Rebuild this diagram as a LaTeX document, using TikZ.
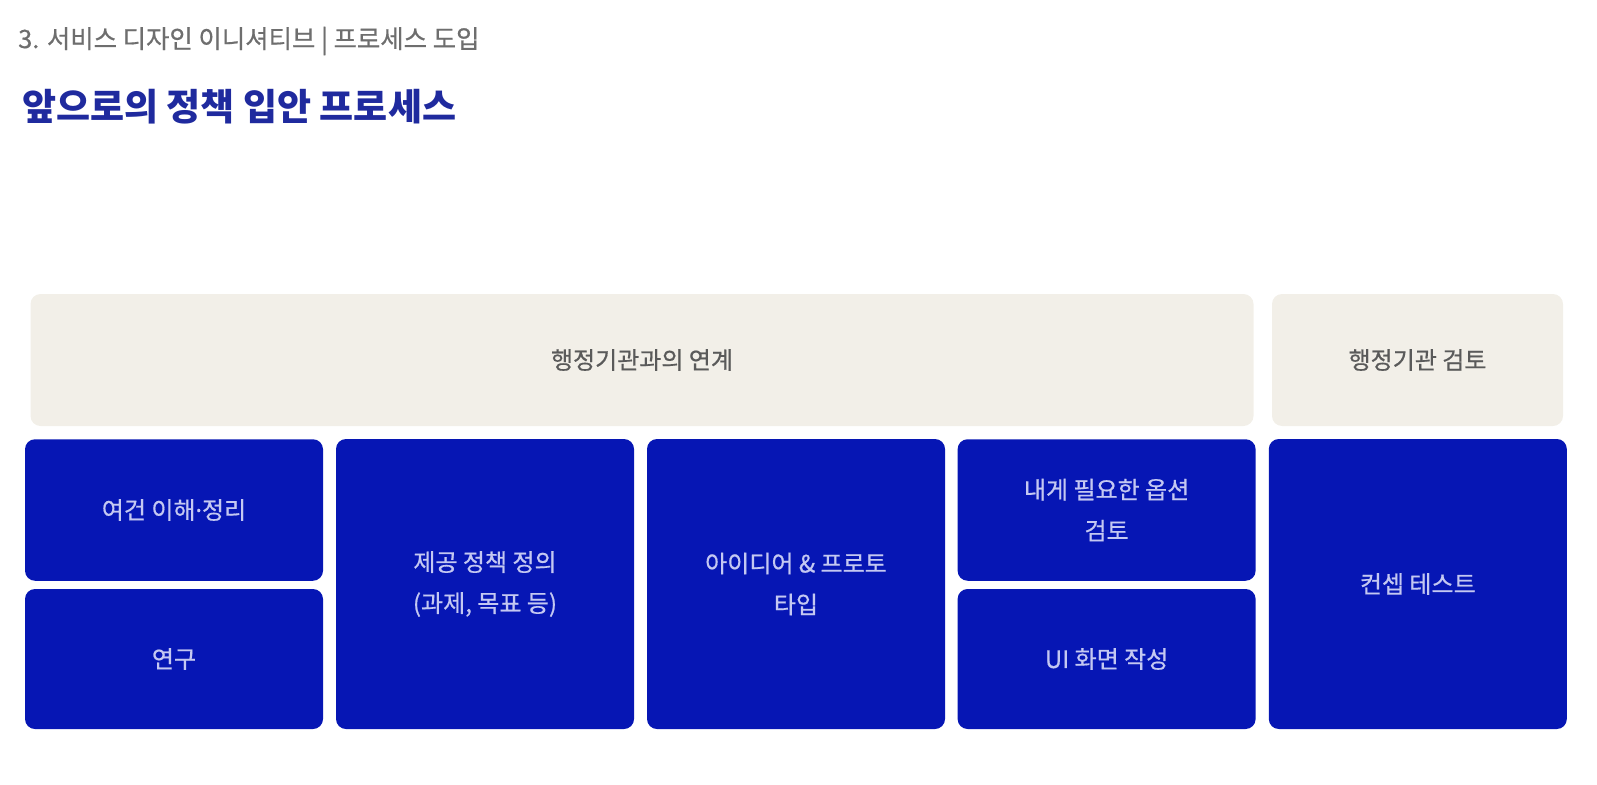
\documentclass[tikz,border=0pt]{standalone}
\usepackage{fontspec}
\setmainfont{Noto Sans CJK KR}
\newfontfamily\boxfont[FakeBold=0.6]{Noto Sans CJK KR}
\newfontfamily\dotfont[FakeBold=0.6]{Noto Sans}
\definecolor{stepblue}{HTML}{0616B4}
\definecolor{steptext}{HTML}{C4C8F2}
\definecolor{bandbeige}{HTML}{F2EFE8}
\definecolor{bandtext}{HTML}{5A5A5A}
\definecolor{titleblue}{HTML}{1F2A9E}
\definecolor{subgray}{HTML}{6E6E6E}
\tikzset{
  bluebox/.style={fill=stepblue, rounded corners=10pt, minimum width=298pt, inner sep=0pt,
    text=steptext, align=center, font=\boxfont\fontsize{24}{41}\selectfont},
  bandbox/.style={fill=bandbeige, rounded corners=10pt, minimum height=132pt, inner sep=0pt,
    text=bandtext, font=\boxfont\fontsize{24}{30}\selectfont}
}

\begin{document}
\begin{tikzpicture}[x=1pt,y=-1pt]
\useasboundingbox (0,0) rectangle (1597,784);

% headings
\node[anchor=west, inner sep=0pt, text=subgray, font=\boxfont\fontsize{25.4}{30}\selectfont] (subtitle) at (18,41) {3. 서비스 디자인 이니셔티브 | 프로세스 도입};
\node[anchor=west, inner sep=0pt, text=titleblue, font=\fontsize{37}{42}\selectfont\bfseries] (title) at (22,107) {앞으로의 정책 입안 프로세스};

% upper band
\node[bandbox, minimum width=1223pt] (liaison) at (642,360) {행정기관과의 연계};
\node[bandbox, minimum width=291pt] (review) at (1417.5,360) {행정기관 검토};

% steps
\node[bluebox, minimum height=141.5pt] (context) at (174,510) {여건 이해{\dotfont ·}정리};
\node[bluebox, minimum height=140pt] (research) at (174,659) {연구};
\node[bluebox, minimum height=290pt] (policy) at (485,584) {제공 정책 정의\\(과제, 목표 등)};
\node[bluebox, minimum height=290pt] (proto) at (796,584) {아이디어 \& 프로토\\타입};
\node[bluebox, minimum height=141.5pt] (options) at (1106.6,510) {내게 필요한 옵션\\검토};
\node[bluebox, minimum height=140pt] (screen) at (1106.6,659) {UI 화면 작성};
\node[bluebox, minimum height=290pt] (concept) at (1417.8,584) {컨셉 테스트};
\end{tikzpicture}
\end{document}
